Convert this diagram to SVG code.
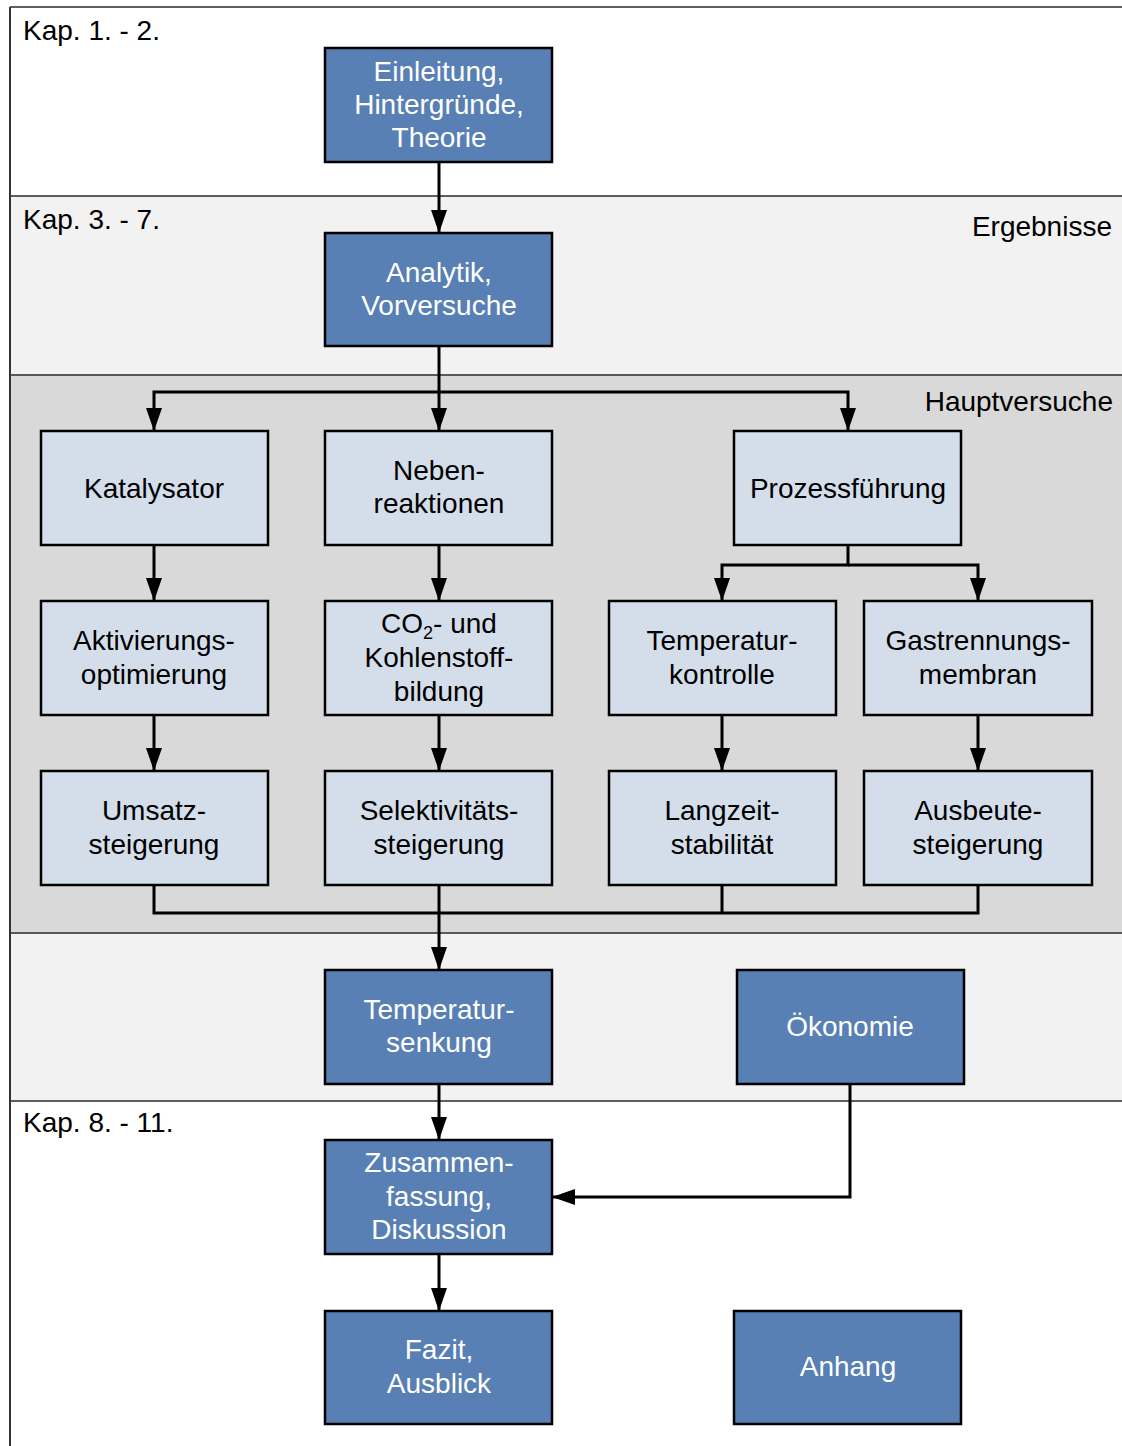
<svg xmlns="http://www.w3.org/2000/svg" width="1122" height="1446" viewBox="0 0 1122 1446">
<style>
text{font-family:"Liberation Sans",Arial,sans-serif;font-size:28px}
.lab{fill:#000}
.dk rect{fill:#5880b4;stroke:#000;stroke-width:2.5}
.dk text{fill:#fff;text-anchor:middle}
.lt rect{fill:#d4deea;stroke:#000;stroke-width:2.5}
.lt text{fill:#000;text-anchor:middle}
.band{stroke:#2a2a2a;stroke-width:1.5}
#connectors path{fill:none;stroke:#000;stroke-width:3}
</style>
<defs>
<marker id="ah" markerUnits="userSpaceOnUse" markerWidth="23" markerHeight="16" viewBox="0 0 23 16" refX="22" refY="8" orient="auto">
<path d="M0,0 L23,8 L0,16 z" fill="#000"/>
</marker>
</defs>
<g id="bands">
<rect x="10" y="7" width="1112" height="189" fill="#fff"/>
<rect x="10" y="196" width="1112" height="179" fill="#f2f2f2"/>
<rect x="10" y="375" width="1112" height="558" fill="#d9d9d9"/>
<rect x="10" y="933" width="1112" height="168" fill="#f2f2f2"/>
<rect x="10" y="1101" width="1112" height="345" fill="#fff"/>
<line class="band" x1="10" y1="7" x2="1122" y2="7"/>
<line class="band" x1="10" y1="196" x2="1122" y2="196"/>
<line class="band" x1="10" y1="375" x2="1122" y2="375"/>
<line class="band" x1="10" y1="933" x2="1122" y2="933"/>
<line class="band" x1="10" y1="1101" x2="1122" y2="1101"/>
<line x1="10" y1="7" x2="10" y2="1446" stroke="#333" stroke-width="2"/>
<text class="lab" x="23" y="40">Kap. 1. - 2.</text>
<text class="lab" x="23" y="229">Kap. 3. - 7.</text>
<text class="lab" x="23" y="1132">Kap. 8. - 11.</text>
<text class="lab" x="1112" y="236" text-anchor="end">Ergebnisse</text>
<text class="lab" x="1113" y="411" text-anchor="end">Hauptversuche</text>
</g>
<g id="connectors">
<path d="M439,162 V232" marker-end="url(#ah)"/>
<path d="M439,346 V430" marker-end="url(#ah)"/>
<path d="M439,392 H154 V430" marker-end="url(#ah)"/>
<path d="M439,392 H848 V430" marker-end="url(#ah)"/>
<path d="M154,545 V600" marker-end="url(#ah)"/>
<path d="M439,545 V600" marker-end="url(#ah)"/>
<path d="M848,545 V565 H722 V600" marker-end="url(#ah)"/>
<path d="M848,565 H978 V600" marker-end="url(#ah)"/>
<path d="M154,715 V770" marker-end="url(#ah)"/>
<path d="M439,715 V770" marker-end="url(#ah)"/>
<path d="M722,715 V770" marker-end="url(#ah)"/>
<path d="M978,715 V770" marker-end="url(#ah)"/>
<path d="M154,885 V913 H978 V885"/>
<path d="M722,885 V913"/>
<path d="M439,885 V969" marker-end="url(#ah)"/>
<path d="M439,1084 V1139" marker-end="url(#ah)"/>
<path d="M850,1084 V1197 H553" marker-end="url(#ah)"/>
<path d="M439,1254 V1310" marker-end="url(#ah)"/>
</g>
<g id="n-einleitung" class="dk"><rect x="325" y="48" width="227" height="114"/><text x="439" y="81">Einleitung,</text><text x="439" y="114">Hintergründe,</text><text x="439" y="147">Theorie</text></g>
<g id="n-analytik" class="dk"><rect x="325" y="233" width="227" height="113"/><text x="439" y="282">Analytik,</text><text x="439" y="315">Vorversuche</text></g>
<g id="n-katalysator" class="lt"><rect x="41" y="431" width="227" height="114"/><text x="154" y="498">Katalysator</text></g>
<g id="n-neben" class="lt"><rect x="325" y="431" width="227" height="114"/><text x="439" y="480">Neben-</text><text x="439" y="513">reaktionen</text></g>
<g id="n-prozess" class="lt"><rect x="734" y="431" width="227" height="114"/><text x="848" y="498">Prozessführung</text></g>
<g id="n-aktivierung" class="lt"><rect x="41" y="601" width="227" height="114"/><text x="154" y="650">Aktivierungs-</text><text x="154" y="684">optimierung</text></g>
<g id="n-co2" class="lt"><rect x="325" y="601" width="227" height="114"/><text x="439" y="633">CO<tspan font-size="18" dy="6">2</tspan><tspan dy="-6">- und</tspan></text><text x="439" y="667">Kohlenstoff-</text><text x="439" y="701">bildung</text></g>
<g id="n-tempkontrolle" class="lt"><rect x="609" y="601" width="227" height="114"/><text x="722" y="650">Temperatur-</text><text x="722" y="684">kontrolle</text></g>
<g id="n-gastrennung" class="lt"><rect x="864" y="601" width="228" height="114"/><text x="978" y="650">Gastrennungs-</text><text x="978" y="684">membran</text></g>
<g id="n-umsatz" class="lt"><rect x="41" y="771" width="227" height="114"/><text x="154" y="820">Umsatz-</text><text x="154" y="854">steigerung</text></g>
<g id="n-selektivitaet" class="lt"><rect x="325" y="771" width="227" height="114"/><text x="439" y="820">Selektivitäts-</text><text x="439" y="854">steigerung</text></g>
<g id="n-langzeit" class="lt"><rect x="609" y="771" width="227" height="114"/><text x="722" y="820">Langzeit-</text><text x="722" y="854">stabilität</text></g>
<g id="n-ausbeute" class="lt"><rect x="864" y="771" width="228" height="114"/><text x="978" y="820">Ausbeute-</text><text x="978" y="854">steigerung</text></g>
<g id="n-tempsenkung" class="dk"><rect x="325" y="970" width="227" height="114"/><text x="439" y="1019">Temperatur-</text><text x="439" y="1052">senkung</text></g>
<g id="n-oekonomie" class="dk"><rect x="737" y="970" width="227" height="114"/><text x="850" y="1036">Ökonomie</text></g>
<g id="n-zusammenfassung" class="dk"><rect x="325" y="1140" width="227" height="114"/><text x="439" y="1172">Zusammen-</text><text x="439" y="1206">fassung,</text><text x="439" y="1239">Diskussion</text></g>
<g id="n-fazit" class="dk"><rect x="325" y="1311" width="227" height="113"/><text x="439" y="1359">Fazit,</text><text x="439" y="1393">Ausblick</text></g>
<g id="n-anhang" class="dk"><rect x="734" y="1311" width="227" height="113"/><text x="848" y="1376">Anhang</text></g>
</svg>
